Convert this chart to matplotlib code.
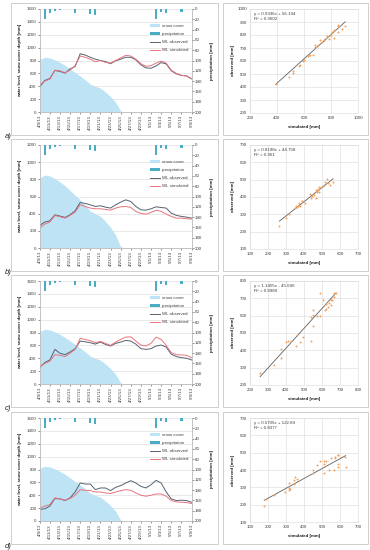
import matplotlib
matplotlib.use("Agg")
import matplotlib.pyplot as plt
from matplotlib.patches import Rectangle, Patch
from matplotlib.lines import Line2D

plt.rcParams['font.family'] = ['Liberation Sans', 'DejaVu Sans']

W, H = 370, 550

# ---------------- data ----------------
days = list(range(31))
date_ticks = ["4/9/13", "4/11/13", "4/13/13", "4/15/13", "4/17/13", "4/19/13",
              "4/21/13", "4/23/13", "4/25/13", "4/27/13", "4/29/13", "5/1/13",
              "5/3/13", "5/5/13", "5/7/13", "5/9/13"]

snow_cover = [815, 850, 840, 810, 770, 725, 670, 615, 560, 500, 430, 400, 370,
              310, 240, 150, 15, 0, 0, 0, 0, 0, 0, 0, 0, 0, 0, 0, 0, 0, 0]

precip_days = [1, 2, 3, 4, 7, 10, 11, 18, 19, 23, 24, 25, 28]
precipitation = [20, 7, 3, 1.5, 8, 9, 12, 0.8, 0.8, 19, 5, 7, 5]

obs_a = [390, 490, 520, 645, 630, 603, 670, 706, 905, 885, 850, 820, 800, 783, 750, 795,
         820, 850, 850, 810, 732, 685, 680, 716, 768, 747, 640, 593, 567, 562, 515]
sim_a = [420, 480, 510, 650, 640, 610, 650, 720, 870, 850, 820, 780, 800, 770, 760, 800,
         840, 880, 870, 820, 750, 710, 720, 760, 790, 760, 650, 600, 570, 560, 520]

obs_b = [263, 302, 317, 387, 372, 356, 387, 434, 530, 519, 503, 484, 492, 476, 465, 503,
         534, 561, 542, 484, 445, 441, 457, 480, 472, 465, 406, 380, 368, 360, 348]
sim_b = [232, 279, 302, 379, 364, 348, 379, 418, 503, 484, 465, 457, 457, 449, 441, 465,
         480, 484, 472, 426, 403, 395, 414, 441, 426, 395, 368, 348, 348, 341, 337]

obs_c = [256, 333, 374, 538, 477, 456, 497, 549, 667, 656, 641, 620, 651, 615, 590, 631,
         651, 677, 667, 620, 549, 538, 549, 590, 605, 574, 462, 426, 410, 400, 374]
sim_c = [267, 318, 354, 456, 446, 426, 477, 538, 708, 692, 672, 641, 662, 631, 600, 651,
         692, 728, 733, 667, 605, 590, 631, 728, 692, 600, 487, 456, 451, 446, 410]

obs_d = [179, 190, 231, 349, 344, 318, 359, 451, 590, 574, 574, 487, 513, 513, 472, 523,
         549, 590, 626, 590, 538, 513, 564, 631, 590, 451, 344, 318, 323, 318, 292]
sim_d = [195, 231, 256, 359, 344, 323, 349, 400, 487, 477, 472, 451, 451, 436, 426, 451,
         472, 487, 477, 436, 400, 385, 400, 420, 420, 385, 318, 297, 292, 287, 272]

observed = [obs_a, obs_b, obs_c, obs_d]
simulated = [sim_a, sim_b, sim_c, sim_d]
left_ymax = [1600, 1200, 1600, 1600]

slopes = [0.9336, 0.8198, 1.1455, 0.5705]
intercepts = [56.194, 44.758, -45.696, 122.84]
eq_texts = ["y = 0.9336x + 56.194", "y = 0.8198x + 44.758",
            "y = 1.1455x - 45.696", "y = 0.5705x + 122.84"]
r2_texts = ["R² = 0.9602", "R² = 0.961", "R² = 0.8989", "R² = 0.8377"]
sc_xlim = [(200, 1000, 200), (100, 700, 100), (200, 800, 100), (100, 700, 100)]
sc_ylim = [(200, 1000, 100), (100, 700, 100), (200, 800, 100), (100, 700, 100)]
panel_labels = ["a)", "b)", "c)", "d)"]

# ---------------- style ----------------
C_SNOW = '#BEE3F5'
C_PREC = '#4BACC6'
C_OBS = '#556270'
C_SIM = '#E8737E'
C_GRID = '#D9D9D9'
C_AX = '#BFBFBF'
C_TXT = '#404040'
C_PT = '#F4A460'
FS = 3.2


def rect(x0, y0, x1, y1):
    return [x0 / W, 1 - y1 / H, (x1 - x0) / W, (y1 - y0) / H]


fig = plt.figure(figsize=(W / 100, H / 100), dpi=100)
fig.patch.set_facecolor('white')

offsets = [0, 136, 272, 409]

for i in range(4):
    off = offsets[i]
    # panel boxes
    for (bx0, bx1) in [(11, 218), (223, 368)]:
        fig.add_artist(Rectangle((bx0 / W, 1 - (135 + off) / H), (bx1 - bx0) / W, 132 / H,
                                 transform=fig.transFigure, fill=False,
                                 edgecolor='#C8C8C8', lw=0.6))
    fig.text(8 / W, 1 - (137 + off) / H, panel_labels[i], fontsize=5.5, style='italic',
             ha='center', va='center', color='#202020')

    # ---- time series ----
    ax = fig.add_axes(rect(39.7, 9 + off, 191.5, 112 + off))
    ax.fill_between(days, snow_cover, 0, color=C_SNOW, lw=0, zorder=1)
    ax.plot(days, observed[i], color=C_OBS, lw=0.7, zorder=3)
    ax.plot(days, simulated[i], color=C_SIM, lw=0.7, zorder=3)
    ax.set_xlim(0, 30)
    ax.set_ylim(0, left_ymax[i])
    ax.set_yticks(range(0, left_ymax[i] + 1, 200))
    ax.set_xticks(range(0, 31, 2))
    ax.set_xticklabels(date_ticks, rotation=90)
    ax.yaxis.grid(True, color=C_GRID, lw=0.4)
    ax.set_axisbelow(True)
    ax.tick_params(labelsize=FS, length=1.2, width=0.4, pad=1, colors=C_TXT)
    for s in ['top']:
        ax.spines[s].set_visible(False)
    for s in ['left', 'bottom', 'right']:
        ax.spines[s].set_color(C_AX)
        ax.spines[s].set_linewidth(0.5)

    ax2 = ax.twinx()
    ax2.bar(precip_days, precipitation, width=0.45, color=C_PREC, zorder=4)
    ax2.set_ylim(200, 0)
    ax2.set_yticks(range(0, 201, 20))
    ax2.tick_params(labelsize=FS, length=1.2, width=0.4, pad=1, colors=C_TXT)
    ax2.spines['top'].set_visible(False)
    for s in ['left', 'bottom', 'right']:
        ax2.spines[s].set_color(C_AX)
        ax2.spines[s].set_linewidth(0.5)

    cy = 1 - (60.5 + off) / H
    fig.text(20 / W, cy, 'water level, snow cover depth [mm]', rotation=90, fontsize=FS,
             fontweight='bold', ha='center', va='center', color='#202020')
    fig.text(212 / W, cy, 'precipitation [mm]', rotation=90, fontsize=FS,
             fontweight='bold', ha='center', va='center', color='#202020')

    handles = [Patch(facecolor=C_SNOW, edgecolor='none'),
               Patch(facecolor=C_PREC, edgecolor='none'),
               Line2D([], [], color=C_OBS, lw=0.7),
               Line2D([], [], color=C_SIM, lw=0.7)]
    ax2.legend(handles, ['snow cover', 'precipitation', 'WL observed', 'WL simulated'],
               loc='upper right', bbox_to_anchor=(1.0, 0.88), frameon=False,
               fontsize=FS, handlelength=2.2, handleheight=0.6, labelspacing=0.9,
               handletextpad=0.4, borderpad=0.2, labelcolor=C_TXT)

    # ---- scatter ----
    sx = fig.add_axes(rect(250, 9 + off, 358, 113 + off))
    sx.scatter(observed[i], simulated[i], s=1.6, marker='D', color=C_PT, lw=0, zorder=3)
    xs = [min(observed[i]), max(observed[i])]
    ys = [slopes[i] * v + intercepts[i] for v in xs]
    sx.plot(xs, ys, color='#606060', lw=0.6, zorder=2)
    x0, x1, xst = sc_xlim[i]
    y0, y1, yst = sc_ylim[i]
    sx.set_xlim(x0, x1)
    sx.set_ylim(y0, y1)
    sx.set_xticks(range(x0, x1 + 1, xst))
    sx.set_yticks(range(y0, y1 + 1, yst))
    sx.grid(True, color=C_GRID, lw=0.4)
    sx.set_axisbelow(True)
    sx.tick_params(labelsize=FS, length=0, pad=2, colors=C_TXT)
    for s in sx.spines.values():
        s.set_color(C_GRID)
        s.set_linewidth(0.4)
    sx.text(0.04, 0.97, eq_texts[i] + "\n" + r2_texts[i], transform=sx.transAxes,
            fontsize=FS, va='top', ha='left', color=C_TXT, linespacing=1.4)
    fig.text(233 / W, 1 - (61 + off) / H, 'observed [mm]', rotation=90, fontsize=FS,
             fontweight='bold', ha='center', va='center', color='#202020')
    fig.text(304 / W, 1 - (127 + off) / H, 'simulated [mm]', fontsize=FS,
             fontweight='bold', ha='center', va='center', color='#202020')

fig.savefig('out.png', dpi=100)
